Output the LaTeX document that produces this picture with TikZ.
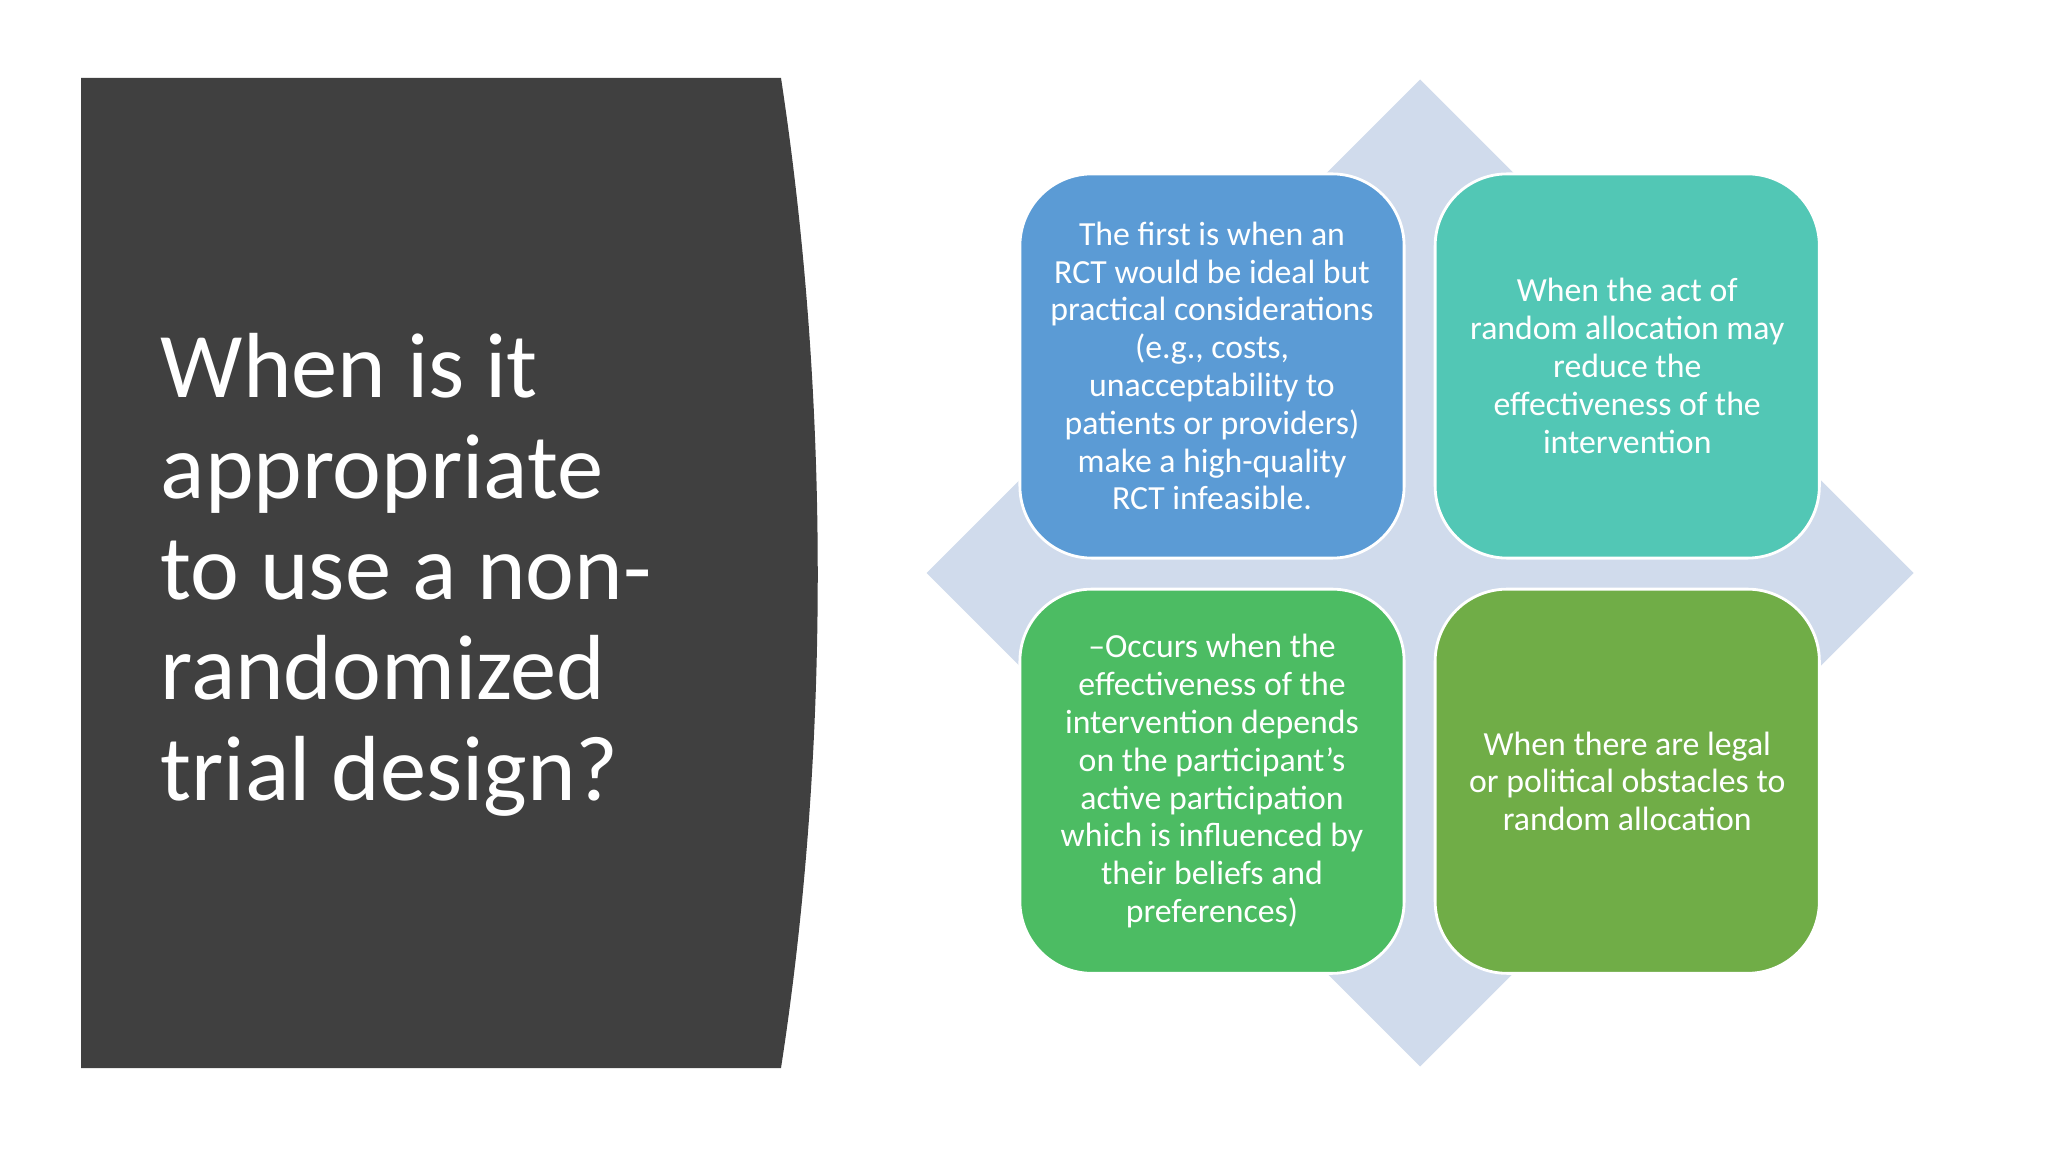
\documentclass[tikz,border=0pt]{standalone}
\usepackage{fontspec}
\setmainfont{Carlito}
\usetikzlibrary{shapes.geometric, positioning}

\definecolor{panelgray}{HTML}{404040}
\definecolor{backblue}{HTML}{D0DBEC}
\definecolor{cardblue}{HTML}{5B9BD5}
\definecolor{cardteal}{HTML}{52C7B5}
\definecolor{cardgreen}{HTML}{4CBC63}
\definecolor{cardolive}{HTML}{70AD47}

\begin{document}
\begin{tikzpicture}[
    x=0.01cm, y=-0.01cm,
    node distance=0.31cm and 0.31cm,
    card/.style={draw=white, line width=0.8pt, rounded corners=0.72cm,
        minimum size=3.84cm, inner sep=0pt, outer sep=0pt, text=white, align=center,
        font=\fontsize{9.6}{10.75}\selectfont},
    backdrop/.style={diamond, aspect=1, fill=backblue, minimum size=9.87cm, inner sep=0pt},
    heading/.style={anchor=north west, inner sep=0pt, text=white, align=left,
        font=\fontsize{26.3}{28.6}\selectfont}
]
\useasboundingbox (0,0) rectangle (2048,1152);
\fill[white] (0,0) rectangle (2048,1152);

% left title panel
\fill[panelgray] (81,78) -- (781,78) .. controls (830,400) and (830,750) .. (781,1068) -- (81,1068) -- cycle;
\node[heading] (title) at (160,333) {When is it\\appropriate\\to use a non-\\randomized\\trial design?};

% diamond behind the four cards
\node[backdrop] (back) at (1420,573) {};

\node[card, fill=cardblue] (ideal) at (1212,366) {The first is when an\\RCT would be ideal but\\practical considerations\\(e.g., costs,\\unacceptability to\\patients or providers)\\make a high-quality\\RCT infeasible.};
\node[card, fill=cardteal, right=of ideal] (effect) {When the act of\\random allocation may\\reduce the\\effectiveness of the\\intervention};
\node[card, fill=cardgreen, below=of ideal] (prefer) {\textendash Occurs when the\\effectiveness of the\\intervention depends\\on the participant’s\\active participation\\which is influenced by\\their beliefs and\\preferences)};
\node[card, fill=cardolive, below=of effect] (legal) {When there are legal\\or political obstacles to\\random allocation};

\end{tikzpicture}
\end{document}
